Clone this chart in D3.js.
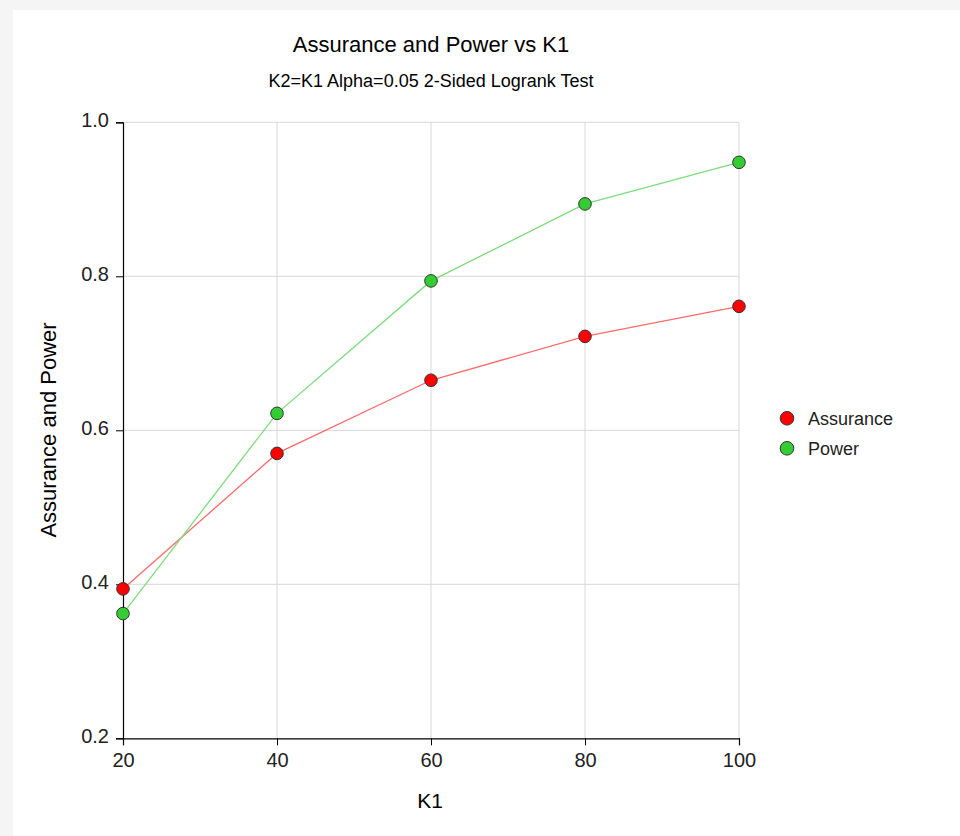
<!DOCTYPE html>
<html><head><meta charset="utf-8">
<script src="https://cdn.jsdelivr.net/npm/d3@7/dist/d3.min.js"></script>
<style>
html,body{margin:0;padding:0;background:#f5f5f5;}
svg{display:block;font-family:"Liberation Sans",Arial,sans-serif;}
</style></head><body>
<svg id="chart" width="960" height="836"></svg>
<script>
const k1 = [20, 40, 60, 80, 100];
const assurance = [0.394, 0.570, 0.665, 0.722, 0.761];
const power = [0.362, 0.622, 0.794, 0.894, 0.948];
const xTicks = [20, 40, 60, 80, 100];
const yTicks = [0.2, 0.4, 0.6, 0.8, 1.0];
const seriesNames = ["Assurance", "Power"];
const title = "Assurance and Power vs K1";
const subtitle = "K2=K1 Alpha=0.05 2-Sided Logrank Test";
const xLabel = "K1";
const yLabel = "Assurance and Power";

const fills = ["#ff0000", "#33cc33"];
const lineColors = ["#ff6a6a", "#7ddc7d"];

const svg = d3.select("#chart");
svg.append("rect").attr("x", 13).attr("y", 10).attr("width", 947).attr("height", 826).attr("fill", "#ffffff");

const x = d3.scaleLinear().domain([20, 100]).range([123, 739]);
const y = d3.scaleLinear().domain([0.2, 1.0]).range([738.3, 122.3]);

// grid
svg.append("g").selectAll("line").data(xTicks.slice(1)).join("line")
  .attr("x1", d => x(d)).attr("x2", d => x(d)).attr("y1", y(0.2)).attr("y2", y(1.0))
  .attr("stroke", "#d8d8d8").attr("stroke-width", 1);
svg.append("g").selectAll("line").data(yTicks.slice(1)).join("line")
  .attr("x1", x(20)).attr("x2", x(100)).attr("y1", d => y(d)).attr("y2", d => y(d))
  .attr("stroke", "#d8d8d8").attr("stroke-width", 1);

// axes
const xAxis = svg.append("g").attr("transform", `translate(0,${y(0.2)})`)
  .call(d3.axisBottom(x).tickValues(xTicks).tickFormat(d3.format("d")).tickSizeOuter(0).tickSize(7).tickPadding(7.5));
const yAxis = svg.append("g").attr("transform", `translate(${x(20)},0)`)
  .call(d3.axisLeft(y).tickValues(yTicks).tickFormat(d3.format(".1f")).tickSizeOuter(0).tickSize(7).tickPadding(7));
[xAxis, yAxis].forEach(a => {
  a.select(".domain").attr("stroke", "#000").attr("stroke-width", 1.2);
  a.selectAll(".tick line").attr("stroke", "#000");
  a.selectAll(".tick text").attr("fill", "#222").style("font-size", "20px").style("font-family", "'Liberation Sans', Arial, sans-serif");
});
yAxis.selectAll(".tick text").attr("dy", "0.22em");

// lines & markers
const series = [assurance, power];
series.forEach((vals, i) => {
  const pts = k1.map((k, j) => [k, vals[j]]);
  svg.append("path").datum(pts)
    .attr("d", d3.line().x(d => x(d[0])).y(d => y(d[1])))
    .attr("fill", "none").attr("stroke", lineColors[i]).attr("stroke-width", 1.3);
});
series.forEach((vals, i) => {
  svg.append("g").selectAll("circle").data(k1.map((k, j) => [k, vals[j]])).join("circle")
    .attr("cx", d => x(d[0])).attr("cy", d => y(d[1])).attr("r", 6.3)
    .attr("fill", fills[i]).attr("stroke", "#333").attr("stroke-width", 1);
});

// titles
svg.append("text").attr("x", 431).attr("y", 52.3).attr("text-anchor", "middle")
  .style("font-size", "22px").attr("fill", "#000").text(title);
svg.append("text").attr("x", 431).attr("y", 86.7).attr("text-anchor", "middle")
  .style("font-size", "18px").attr("fill", "#000").text(subtitle);
svg.append("text").attr("x", 430).attr("y", 808).attr("text-anchor", "middle")
  .style("font-size", "21px").attr("fill", "#000").text(xLabel);
svg.append("text").attr("transform", "translate(56,430) rotate(-90)").attr("text-anchor", "middle")
  .style("font-size", "22px").attr("fill", "#000").text(yLabel);

// legend
const leg = svg.append("g");
seriesNames.forEach((n, i) => {
  leg.append("circle").attr("cx", 787).attr("cy", 418.3 + i * 30).attr("r", 6.8)
    .attr("fill", fills[i]).attr("stroke", "#333").attr("stroke-width", 1);
  leg.append("text").attr("x", 808).attr("y", 418.3 + i * 30 + 6.5).style("font-size", "18px")
    .attr("fill", "#222").text(n);
});
</script>
</body></html>
